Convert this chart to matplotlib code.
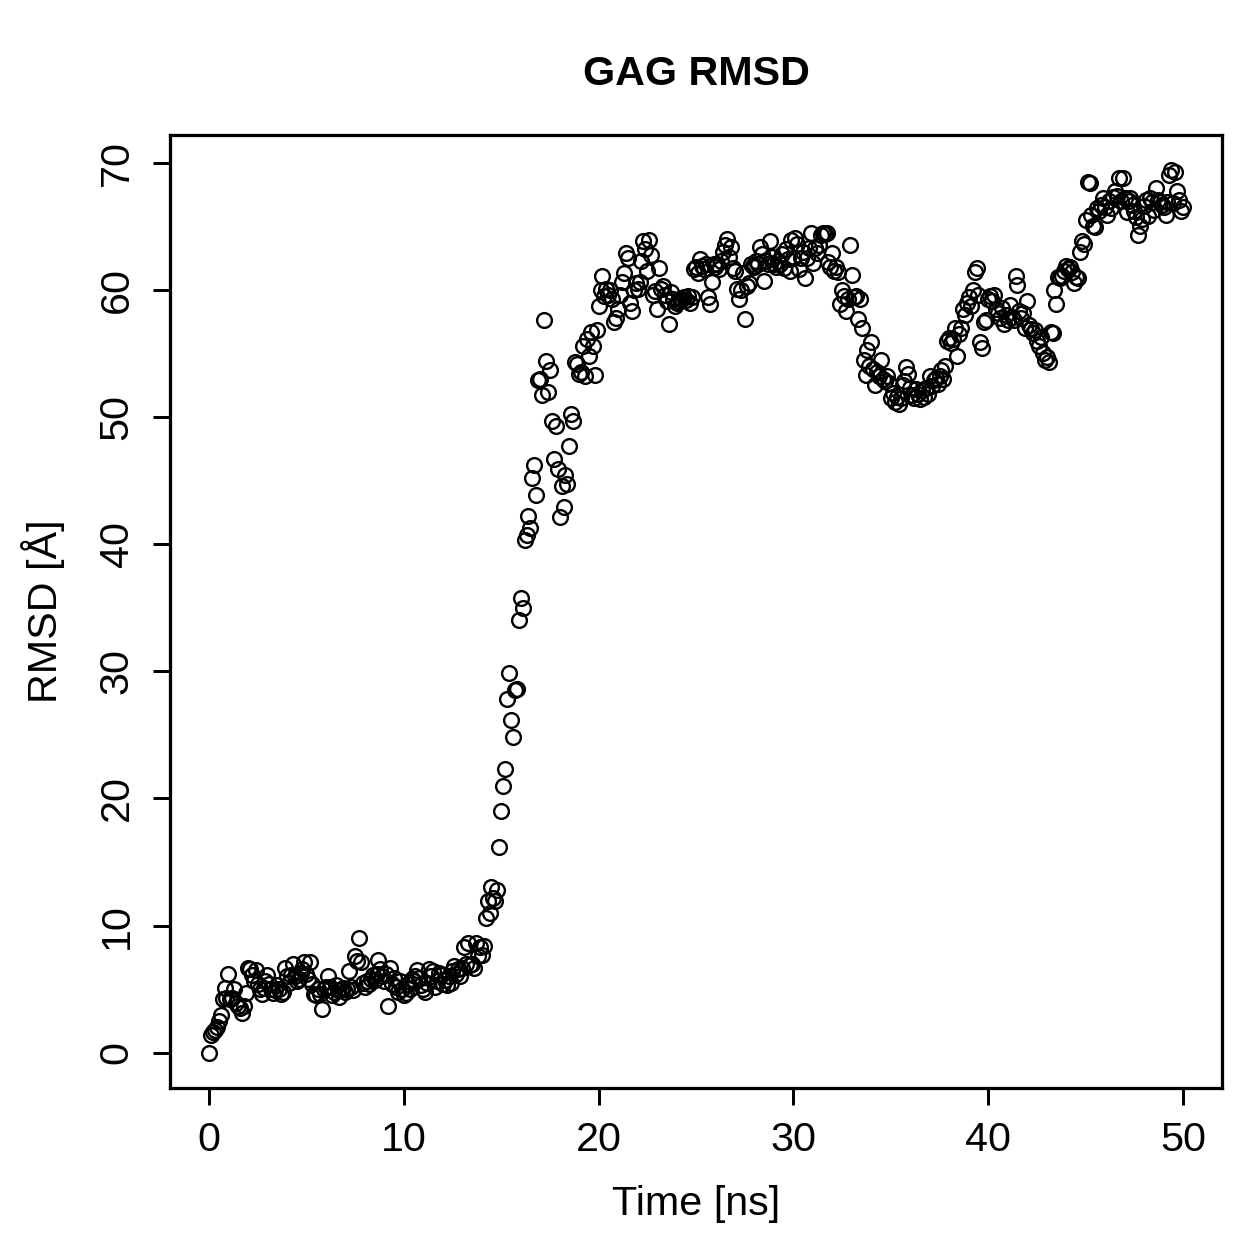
import numpy as np
import matplotlib
matplotlib.use("Agg")
import matplotlib.pyplot as plt

plt.rcParams['font.family'] = ['Liberation Sans', 'DejaVu Sans']

# RMSD values (Angstrom), one row per ns, sampled every 0.1 ns from 0 to 50 ns
rmsd_rows = [
    [0.0, 1.4, 1.6, 1.8, 2.0, 2.5, 3.0, 4.2, 5.1, 4.3],
    [6.2, 4.2, 4.3, 5.0, 3.9, 3.7, 3.5, 3.1, 3.7, 4.7],
    [6.7, 6.6, 6.1, 5.6, 6.5, 5.4, 5.0, 4.6, 5.1, 5.6],
    [6.1, 5.4, 5.0, 4.7, 4.9, 5.3, 5.0, 4.6, 4.8, 6.7],
    [6.0, 5.5, 6.1, 7.0, 6.0, 5.6, 5.8, 6.3, 6.6, 7.1],
    [6.2, 5.8, 7.1, 5.4, 4.6, 4.5, 5.0, 4.6, 3.4, 5.0],
    [5.2, 6.0, 5.2, 4.5, 4.8, 5.3, 4.9, 4.4, 4.9, 5.1],
    [4.8, 5.0, 6.4, 5.2, 4.9, 7.6, 7.2, 9.0, 7.1, 5.5],
    [5.2, 5.6, 5.4, 5.8, 6.1, 5.7, 6.2, 7.3, 6.6, 6.0],
    [5.6, 6.2, 3.7, 6.7, 5.4, 5.9, 5.2, 4.8, 5.6, 5.0],
    [4.5, 4.7, 5.4, 5.0, 5.8, 5.6, 6.0, 6.5, 5.9, 5.3],
    [5.0, 4.8, 5.5, 6.6, 6.0, 6.4, 5.2, 5.6, 6.3, 6.1],
    [5.4, 5.7, 5.3, 6.0, 5.5, 6.4, 6.8, 6.2, 6.6, 6.0],
    [6.7, 8.3, 7.0, 8.6, 6.9, 7.0, 6.7, 8.6, 7.6, 8.3],
    [7.7, 8.4, 10.6, 11.9, 11.0, 13.0, 12.2, 11.9, 12.8, 16.2],
    [19.0, 21.0, 22.3, 27.8, 29.9, 26.2, 24.8, 28.5, 28.6, 34.0],
    [35.8, 35.0, 40.3, 40.7, 42.2, 41.3, 45.2, 46.2, 43.9, 52.9],
    [53.0, 51.7, 57.6, 54.4, 52.0, 53.7, 49.7, 46.7, 49.3, 45.9],
    [42.1, 44.6, 42.9, 45.4, 44.7, 47.7, 50.2, 49.7, 54.3, 54.2],
    [53.4, 53.5, 55.6, 53.2, 56.1, 54.8, 56.7, 55.6, 53.3, 56.8],
    [58.7, 60.0, 61.1, 59.5, 60.1, 59.6, 60.0, 59.3, 57.5, 57.8],
    [58.5, 59.6, 60.6, 61.3, 62.9, 62.5, 59.0, 58.3, 60.0, 60.5],
    [60.1, 60.6, 62.3, 63.8, 63.2, 61.5, 63.9, 62.7, 59.6, 59.9],
    [58.5, 61.7, 60.1, 60.3, 59.6, 59.1, 57.3, 59.8, 59.3, 58.7],
    [59.0, 59.1, 59.3, 59.3, 59.4, 59.2, 59.5, 59.0, 59.4, 61.6],
    [61.8, 61.3, 62.4, 61.9, 61.6, 62.0, 59.4, 58.9, 60.6, 62.0],
    [61.8, 62.0, 61.6, 62.3, 63.0, 63.5, 64.0, 62.6, 63.4, 61.7],
    [61.5, 60.1, 59.3, 60.0, 61.3, 57.7, 60.3, 60.5, 62.0, 61.9],
    [61.8, 62.3, 62.0, 63.4, 62.8, 60.7, 62.3, 62.0, 63.8, 62.6],
    [62.0, 61.8, 62.3, 62.0, 62.8, 61.7, 63.2, 62.4, 61.5, 63.9],
    [62.5, 64.1, 63.6, 61.6, 62.5, 63.0, 60.9, 62.5, 63.3, 64.5],
    [62.1, 63.3, 62.9, 63.5, 64.3, 64.5, 64.4, 64.5, 62.2, 61.8],
    [62.9, 61.5, 61.8, 61.4, 58.9, 60.0, 59.5, 58.3, 59.3, 63.5],
    [61.2, 59.4, 59.5, 57.7, 59.3, 57.0, 54.5, 53.3, 55.3, 54.0],
    [55.9, 53.8, 52.5, 53.5, 53.2, 54.5, 53.0, 52.8, 53.2, 52.7],
    [51.5, 51.9, 51.2, 51.6, 51.0, 51.5, 52.5, 52.8, 53.9, 53.4],
    [52.3, 51.7, 51.5, 52.2, 51.8, 51.4, 52.1, 51.6, 52.3, 51.8],
    [53.2, 52.4, 52.9, 53.1, 52.6, 53.2, 53.7, 53.0, 54.0, 56.0],
    [56.2, 55.8, 56.1, 57.0, 54.8, 56.5, 57.0, 58.5, 58.0, 59.0],
    [59.4, 58.7, 60.0, 61.4, 61.7, 59.6, 55.9, 55.4, 57.5, 57.6],
    [59.3, 59.5, 59.1, 59.6, 58.5, 58.2, 57.8, 58.6, 57.3, 58.0],
    [57.6, 58.8, 57.9, 57.6, 61.1, 60.4, 58.3, 57.8, 58.2, 57.0],
    [59.1, 57.2, 56.9, 56.6, 56.8, 56.0, 55.6, 56.3, 55.0, 54.5],
    [54.7, 54.3, 56.7, 56.6, 60.0, 58.9, 61.0, 60.9, 61.1, 61.5],
    [61.9, 61.6, 61.8, 61.4, 60.5, 61.0, 60.9, 63.0, 63.8, 63.6],
    [65.5, 68.5, 68.4, 65.9, 65.0, 64.9, 66.4, 66.2, 66.7, 67.2],
    [66.5, 65.9, 67.0, 66.4, 67.3, 67.8, 67.4, 68.8, 67.0, 68.8],
    [67.2, 66.1, 67.0, 67.2, 66.7, 66.2, 65.7, 64.3, 65.0, 65.6],
    [66.6, 67.1, 65.8, 67.2, 66.9, 66.3, 68.0, 67.1, 66.9, 66.7],
    [66.5, 65.9, 66.9, 69.0, 69.4, 66.8, 69.3, 67.8, 67.1, 66.2],
]
rmsd_last = [66.5]

rmsd = np.array([v for row in rmsd_rows for v in row] + rmsd_last)
time_ns = np.arange(len(rmsd)) * 0.1

x_ticks = [0, 10, 20, 30, 40, 50]
y_ticks = [0, 10, 20, 30, 40, 50, 60, 70]

fig = plt.figure(figsize=(7, 7), dpi=179.86)
ax = fig.add_axes([170/1259, 1 - 1088/1259, (1222-170)/1259, (1088-135)/1259])

ax.plot(time_ns, rmsd, linestyle='none', marker='o', markersize=5.9,
        markerfacecolor='none', markeredgecolor='black', markeredgewidth=0.95)

def ext(lo, hi):
    r = hi - lo
    return lo - 0.04 * r, hi + 0.04 * r

ax.set_xlim(*ext(time_ns.min(), time_ns.max()))
ax.set_ylim(*ext(rmsd.min(), rmsd.max()))

ax.set_xticks(x_ticks)
ax.set_yticks(y_ticks)
ax.set_xticklabels([str(t) for t in x_ticks])
ax.set_yticklabels([str(t) for t in y_ticks], rotation=90, va='center')

ax.tick_params(axis='both', which='major', length=6.8, width=1.2,
               labelsize=16.5, direction='out', color='black')
ax.tick_params(axis='x', pad=6.5)
ax.tick_params(axis='y', pad=7)

for s in ax.spines.values():
    s.set_linewidth(1.3)
    s.set_color('black')

ax.set_xlabel('Time [ns]', fontsize=16.5)
ax.set_ylabel('RMSD [Å]', fontsize=16.5)
ax.xaxis.set_label_coords(0.5, -0.102)
ax.yaxis.set_label_coords(-0.1, 0.5)
ax.set_title('GAG RMSD', fontsize=16.5, fontweight='bold', pad=20)

fig.savefig('out.png', dpi=179.86, facecolor='white')
